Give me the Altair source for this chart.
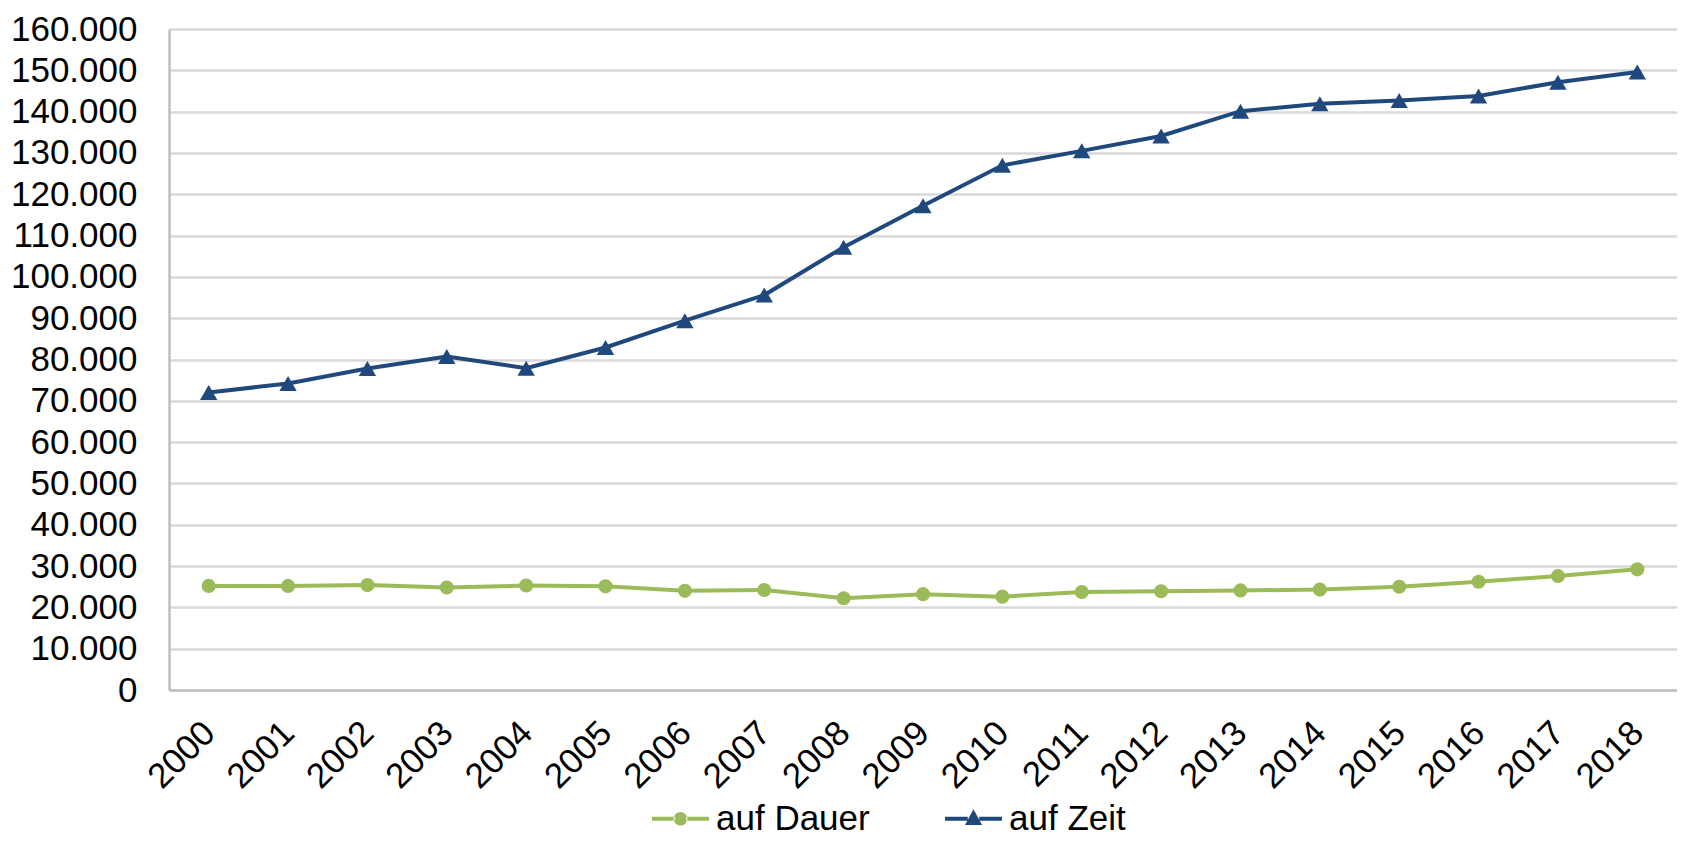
import altair as alt
import pandas as pd

years = [str(y) for y in range(2000, 2019)]
auf_dauer = [25200, 25200, 25400, 24800, 25300, 25100, 24000, 24200, 22200, 23200,
             22600, 23700, 23900, 24100, 24300, 25000, 26200, 27600, 29200]
auf_zeit = [72000, 74200, 77800, 80700, 77900, 82900, 89400, 95600, 107200, 117200,
            127000, 130500, 134100, 140100, 141900, 142700, 143800, 147100, 149600]
series = ["auf Dauer", "auf Zeit"]
colors = ["#9BBB59", "#1F497D"]
y_ticks = list(range(0, 160001, 10000))

df = pd.DataFrame({
    "year": years * 2,
    "value": auf_dauer + auf_zeit,
    "series": [series[0]] * len(years) + [series[1]] * len(years),
})

FONT = "Liberation Sans"

x_enc = alt.X("year:O", scale=alt.Scale(type="point", padding=0.5),
              axis=alt.Axis(title=None, labelAngle=-45, labelAlign="right",
                            labelBaseline="top", labelPadding=25, labelOffset=-12,
                            ticks=False, grid=False, domain=True))
y_enc = alt.Y("value:Q", scale=alt.Scale(domain=[0, 160000], nice=False),
              axis=alt.Axis(title=None, values=y_ticks, ticks=False, grid=True,
                            labelPadding=32,
                            labelExpr="replace(format(datum.value, ','), ',', '.')"))

base = alt.Chart(df).encode(x=x_enc, y=y_enc)

layers = []
specs = [(series[0], colors[0], "circle", 200), (series[1], colors[1], "triangle-up", 300)]
for name, col, shp, sz in specs:
    sub = base.transform_filter(alt.datum.series == name)
    layers.append(sub.mark_line(color=col, strokeWidth=4))
    layers.append(sub.mark_point(color=col, shape=shp, size=sz, filled=True, opacity=1))

dauer_path = ("M-1,-0.07H-0.2V0.07H-1Z M0.2,-0.07H1V0.07H0.2Z "
              "M-0.24,0 A0.24,0.24 0 1,0 0.24,0 A0.24,0.24 0 1,0 -0.24,0 Z")
zeit_path = ("M-1,-0.07H-0.2V0.07H-1Z M0.2,-0.07H1V0.07H0.2Z "
             "M0,-0.33 L0.3,0.22 L-0.3,0.22 Z")

legend = alt.Legend(title=None, orient="none", legendX=483, legendY=761,
                    direction="horizontal", columns=2, labelFontSize=35,
                    labelFont=FONT, labelColor="#000000", labelOffset=7,
                    columnPadding=75, padding=0, symbolSize=3249,
                    symbolStrokeWidth=0)

legend_layer = alt.Chart(df).transform_filter("datum.value < 0").mark_point(
    filled=True, opacity=1, size=3249, strokeWidth=0
).encode(
    color=alt.Color("series:N", scale=alt.Scale(domain=series, range=colors), legend=legend),
    shape=alt.Shape("series:N", scale=alt.Scale(domain=series, range=[dauer_path, zeit_path]),
                    legend=legend),
)
layers.append(legend_layer)

chart = alt.layer(*layers).properties(
    width=1508, height=661,
    autosize=alt.AutoSizeParams(type="none"),
    padding={"left": 161, "top": 21, "right": 0, "bottom": 143},
).configure_view(strokeWidth=0).configure_axis(
    labelFont=FONT, labelFontSize=35, labelColor="#000000",
    domainColor="#BFBFBF", domainWidth=2.5,
    gridColor="#D9D9D9", gridWidth=2.5,
)

chart.save("out.html", embed_options={"renderer": "svg", "actions": False})
